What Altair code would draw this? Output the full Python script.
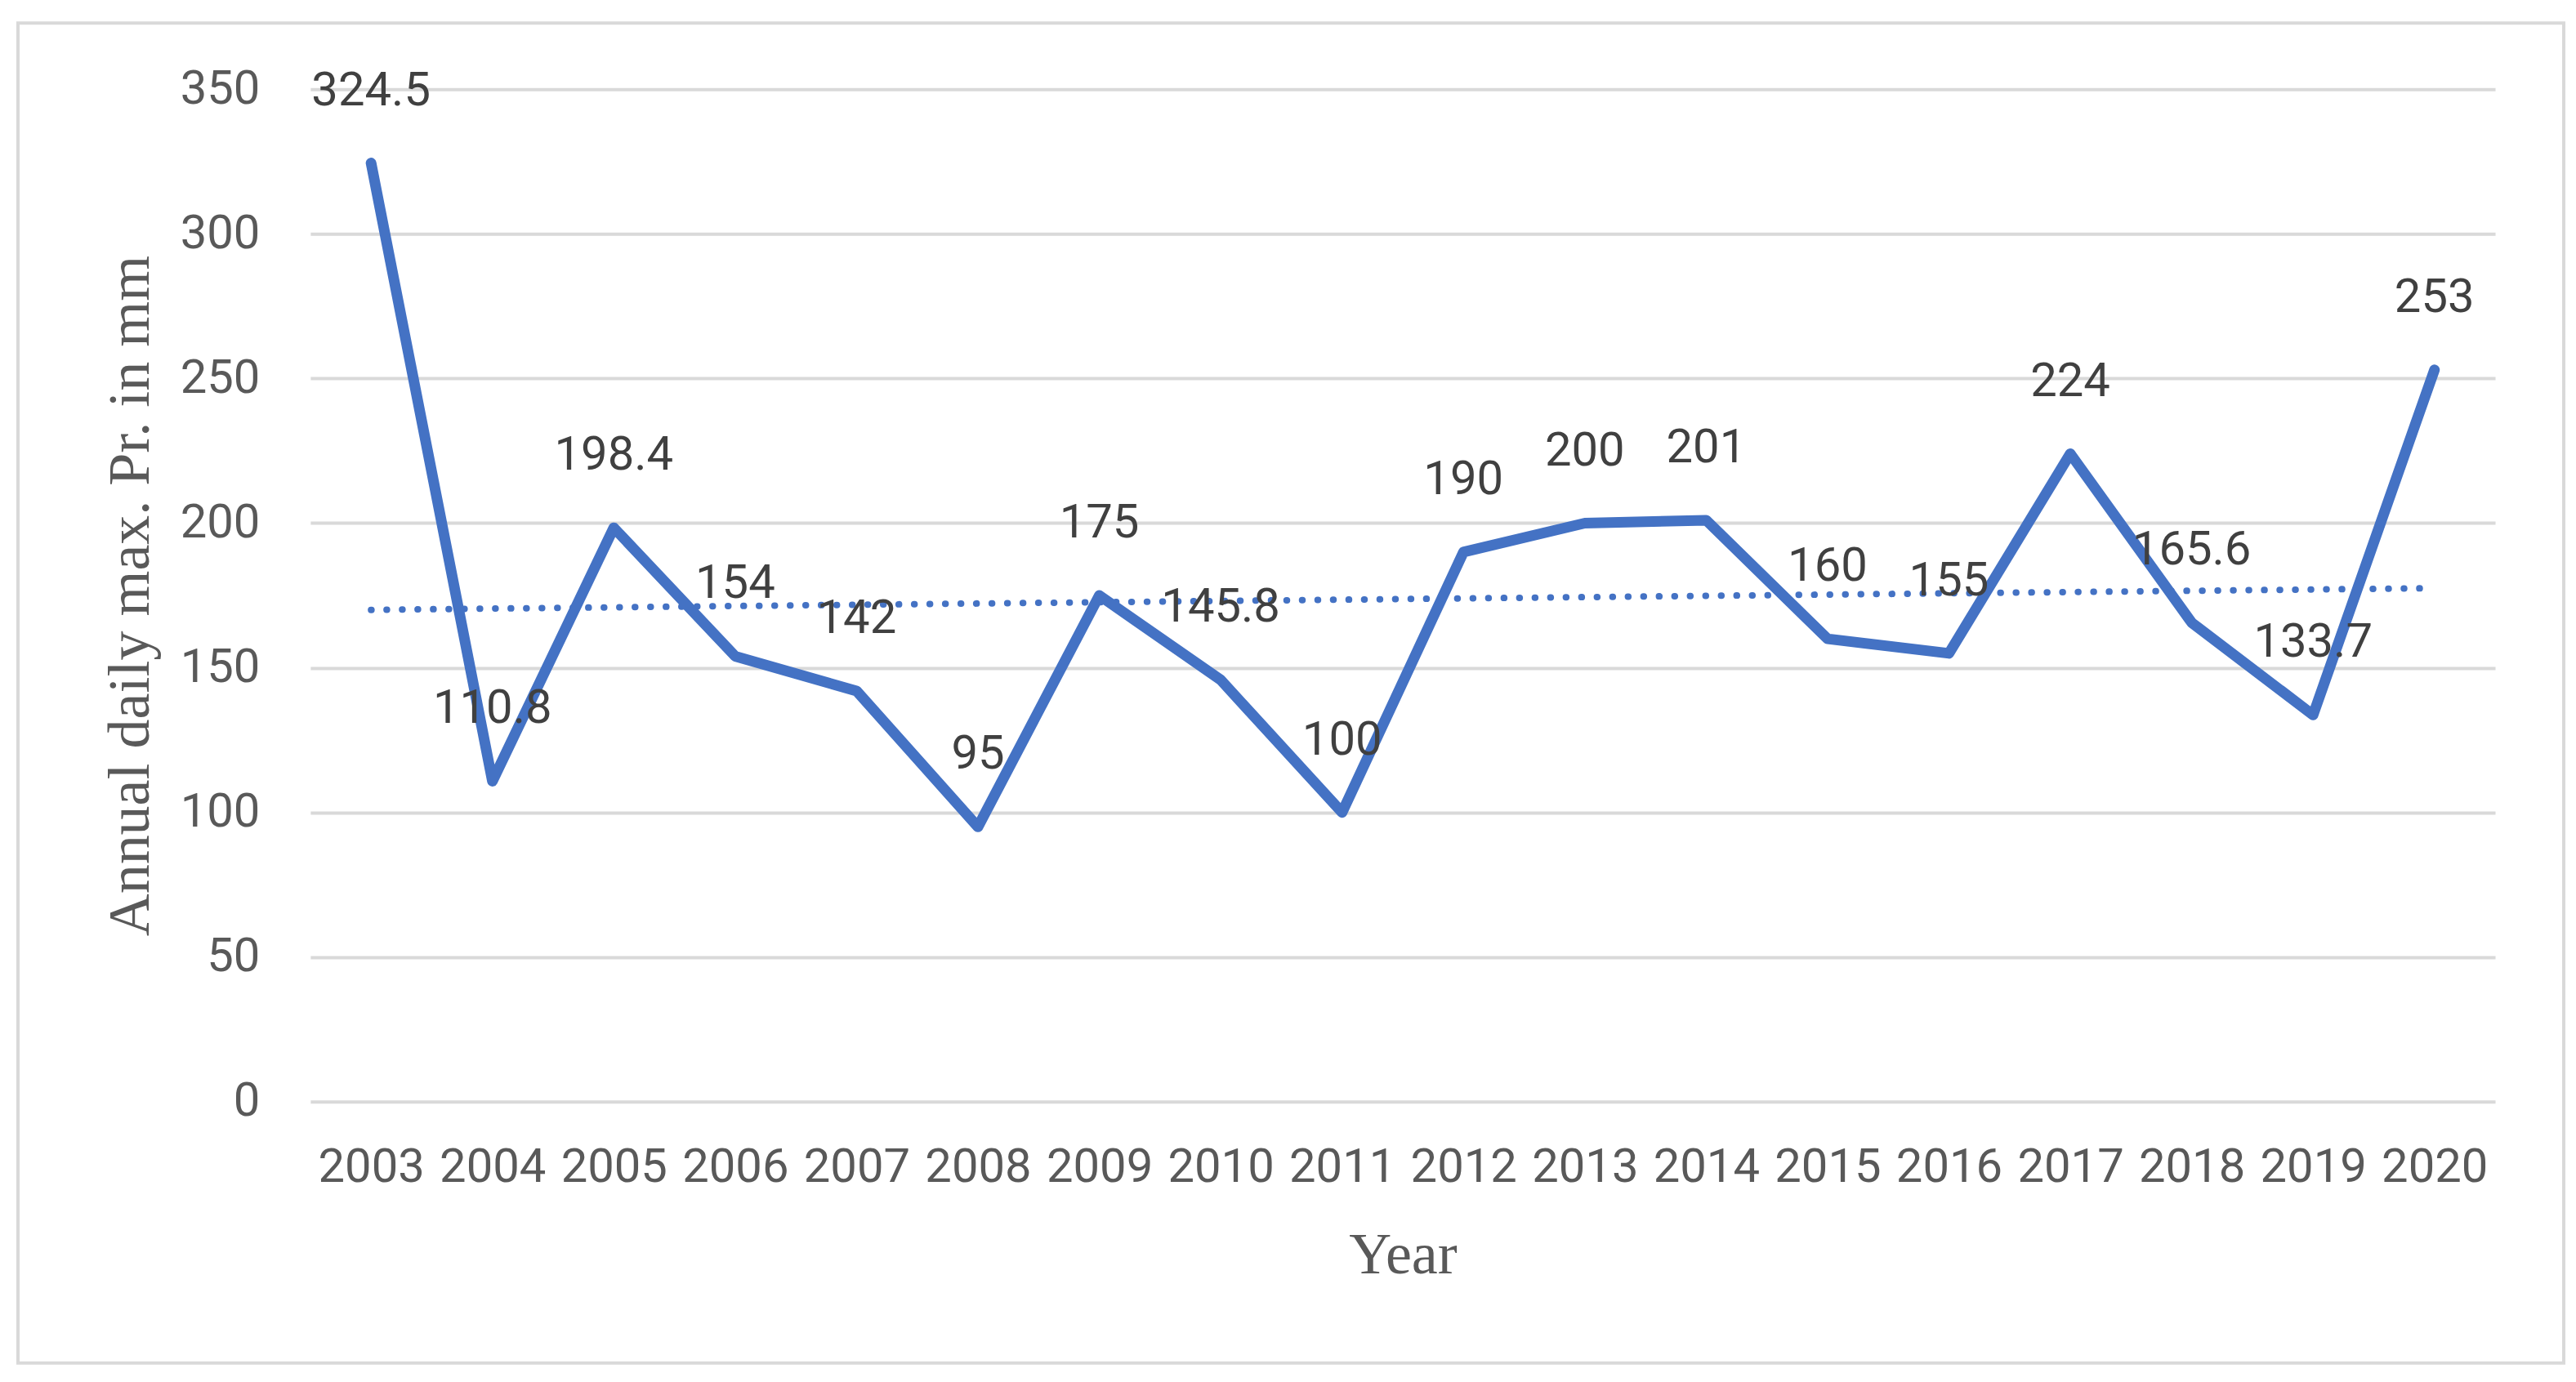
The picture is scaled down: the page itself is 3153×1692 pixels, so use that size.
import altair as alt
import pandas as pd

years = [2003, 2004, 2005, 2006, 2007, 2008, 2009, 2010, 2011,
         2012, 2013, 2014, 2015, 2016, 2017, 2018, 2019, 2020]
values = [324.5, 110.8, 198.4, 154, 142, 95, 175, 145.8, 100,
          190, 200, 201, 160, 155, 224, 165.6, 133.7, 253]
labels = ["324.5", "110.8", "198.4", "154", "142", "95", "175", "145.8", "100",
          "190", "200", "201", "160", "155", "224", "165.6", "133.7", "253"]
y_ticks = [0, 50, 100, 150, 200, 250, 300, 350]

df = pd.DataFrame({"year": years, "value": values, "label": labels})

BLUE = "#4472C4"
xscale = alt.Scale(domain=[2002.5, 2020.5], nice=False, zero=False)
yscale = alt.Scale(domain=[0, 350], nice=False)

base = alt.Chart(df)

frame = base.mark_rect(filled=False, stroke="#d9d9d9", strokeWidth=4).encode(
    x=alt.value(-358), x2=alt.value(2759), y=alt.value(-81), y2=alt.value(1560)
).transform_filter(alt.datum.year == 2003)

line = base.mark_line(color=BLUE, strokeWidth=13, strokeJoin="round", strokeCap="round").encode(
    x=alt.X("year:Q", scale=xscale,
            axis=alt.Axis(title="Year", values=years, format="d", grid=False, domain=False,
                          ticks=False, labelPadding=52, labelFont="Roboto", labelFontSize=58,
                          labelColor="#595959", titleFont="Liberation Serif", titleFontSize=72,
                          titleFontWeight="normal", titleColor="#595959", titlePadding=43,
                          labelOverlap=False, labelFlush=False)),
    y=alt.Y("value:Q", scale=yscale,
            axis=alt.Axis(title="Annual daily max. Pr. in mm", values=y_ticks, grid=True,
                          gridColor="#d9d9d9", gridWidth=4, domain=False, ticks=False,
                          labelPadding=62, labelFont="Roboto", labelFontSize=58,
                          labelColor="#595959", titleFont="Liberation Serif", titleFontSize=72,
                          titleFontWeight="normal", titleColor="#595959", titlePadding=24)),
)

trend = base.transform_regression("year", "value", extent=[2003, 2020]).mark_line(
    color=BLUE, strokeWidth=8, strokeDash=[0.5, 18.5], strokeCap="round"
).encode(x=alt.X("year:Q", scale=xscale), y=alt.Y("value:Q", scale=yscale))

text = base.mark_text(font="Roboto", fontSize=58, color="#404040", dy=-88, baseline="middle").encode(
    x=alt.X("year:Q", scale=xscale), y=alt.Y("value:Q", scale=yscale), text="label:N"
)

chart = alt.layer(frame, trend, line, text).properties(
    width=2675, height=1240,
    padding={"left": 12, "top": 18, "right": 5, "bottom": 5},
    background="white",
).configure_view(stroke=None)

chart.save("out.html", embed_options={"renderer": "svg", "actions": False})
